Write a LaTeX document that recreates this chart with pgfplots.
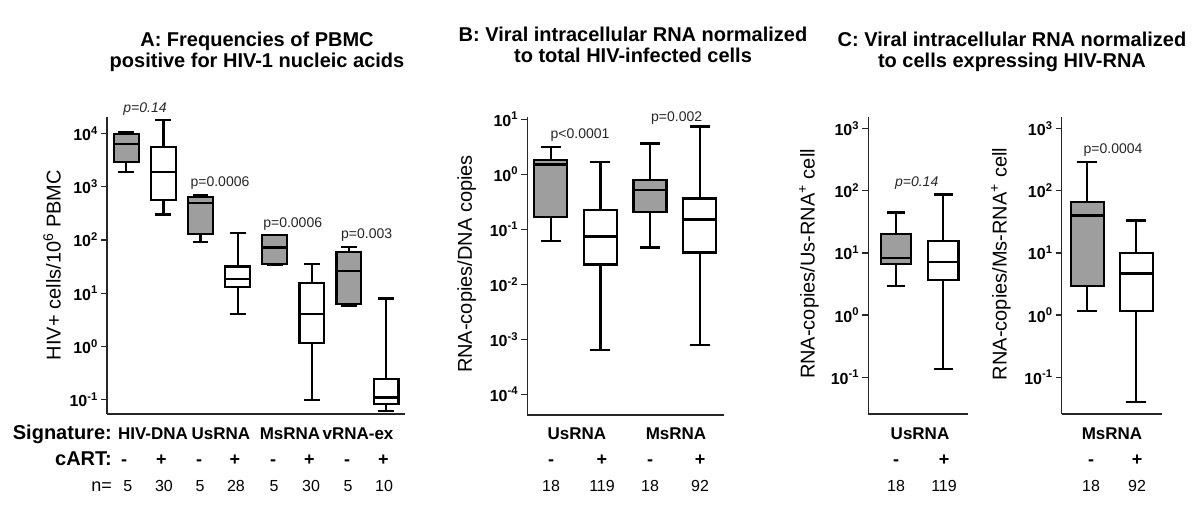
\documentclass[border=0pt]{standalone}
\usepackage{fontspec}
\setmainfont{Liberation Sans}
\usepackage{pgfplots}
\pgfplotsset{compat=1.18}
\definecolor{boxgray}{RGB}{158,158,158}
\pgfplotsset{
  boxpanel/.style={
    scale only axis, clip=false,
    axis x line*=bottom, axis y line*=left,
    axis line style={-, line width=1.3pt, draw=black!85},
    xtick=\empty, tick align=outside, major tick length=6pt,
    ytick style={line width=1.3pt, draw=black!85},
    yminorticks=false,
    yticklabel style={font=\fontsize{16}{16}\selectfont\bfseries, inner sep=1pt, xshift=-2pt},
  },
  wh/.style={draw=black, line width=2.2pt, line cap=rect, mark=none},
  boxst/.style={draw=black, line width=2.2pt, line join=miter, mark=none},
}
\newcommand{\tklab}[1]{\textbf{10\textsuperscript{#1}}}
% \bx{fill}{position}{half box width}{half cap width}{min}{Q1}{median}{Q3}{max}
\newcommand{\bx}[9]{%
  \pgfmathsetmacro\bxL{#2-#3}\pgfmathsetmacro\bxR{#2+#3}%
  \pgfmathsetmacro\cpL{#2-#4}\pgfmathsetmacro\cpR{#2+#4}%
  \addplot[wh] coordinates {(#2,#8) (#2,#9)};
  \addplot[wh] coordinates {(#2,#6) (#2,#5)};
  \addplot[wh] coordinates {(\cpL,#9) (\cpR,#9)};
  \addplot[wh] coordinates {(\cpL,#5) (\cpR,#5)};
  \addplot[boxst, fill=#1] coordinates {(\bxL,#6) (\bxR,#6) (\bxR,#8) (\bxL,#8)} --cycle;
  \addplot[wh] coordinates {(\bxL,#7) (\bxR,#7)};
}
\begin{document}
\begin{tikzpicture}
\useasboundingbox (0,0) rectangle (1200pt,515pt);
% ---------------- Panel A ----------------
\begin{axis}[boxpanel, ymode=log, at={(107pt,101pt)}, anchor=south west, width=298pt, height=297pt,
  xmin=0.48, xmax=8.51, ymin=0.0537, ymax=20417,
  ytick={0.1,1,10,100,1000,10000}, yticklabels={\tklab{-1},\tklab{0},\tklab{1},\tklab{2},\tklab{3},\tklab{4}}]
\bx{boxgray}{1}{0.335}{0.185}{1905}{2951}{6310}{9772}{10471}
\bx{white}{2}{0.335}{0.185}{302}{562}{1862}{5623}{18197}
\bx{boxgray}{3}{0.335}{0.185}{91}{129}{490}{631}{692}
\bx{white}{4}{0.335}{0.185}{4.07}{13.2}{18.6}{31.6}{135}
\bx{boxgray}{5}{0.335}{0.185}{33.9}{35.5}{72.4}{126}{126}
\bx{white}{6}{0.335}{0.185}{0.1}{1.15}{4.07}{15.5}{35.5}
\bx{boxgray}{7}{0.335}{0.185}{5.75}{6.17}{25.7}{60.3}{74.1}
\bx{white}{8}{0.335}{0.185}{0.0617}{0.0832}{0.110}{0.240}{7.94}
\end{axis}
% ---------------- Panel B ----------------
\begin{axis}[boxpanel, ymode=log, at={(527.3pt,100pt)}, anchor=south west, width=196.7pt, height=298.3pt,
  xmin=0.526, xmax=4.49, ymin=4.21e-5, ymax=11.14,
  ytick={1e-4,1e-3,0.01,0.1,1,10}, yticklabels={\tklab{-4},\tklab{-3},\tklab{-2},\tklab{-1},\tklab{0},\tklab{1}}]
\bx{boxgray}{1}{0.333}{0.18}{0.0617}{0.166}{1.51}{1.80}{3.09}
\bx{white}{2}{0.333}{0.18}{0.00063}{0.0229}{0.0741}{0.224}{1.66}
\bx{boxgray}{3}{0.333}{0.18}{0.0468}{0.209}{0.525}{0.794}{3.63}
\bx{white}{4}{0.333}{0.18}{0.00079}{0.038}{0.151}{0.363}{7.41}
\end{axis}
% ---------------- Panel C left ----------------
\begin{axis}[boxpanel, ymode=log, at={(868.3pt,101pt)}, anchor=south west, width=100pt, height=296.7pt,
  xmin=0.41, xmax=2.53, ymin=0.0257, ymax=1514,
  ytick={0.1,1,10,100,1000}, yticklabels={\tklab{-1},\tklab{0},\tklab{1},\tklab{2},\tklab{3}}]
\bx{boxgray}{1}{0.32}{0.175}{2.95}{6.61}{8.32}{20.0}{44.7}
\bx{white}{2}{0.32}{0.175}{0.138}{3.63}{7.08}{15.5}{87.1}
\end{axis}
% ---------------- Panel C right ----------------
\begin{axis}[boxpanel, ymode=log, at={(1061.7pt,101pt)}, anchor=south west, width=100pt, height=296.7pt,
  xmin=0.48, xmax=2.52, ymin=0.0257, ymax=1514,
  ytick={0.1,1,10,100,1000}, yticklabels={\tklab{-1},\tklab{0},\tklab{1},\tklab{2},\tklab{3}}]
\bx{boxgray}{1}{0.335}{0.18}{1.17}{2.95}{39.8}{66.1}{288}
\bx{white}{2}{0.335}{0.18}{0.0398}{1.17}{4.68}{10.0}{33.1}
\end{axis}
% ---------------- Texts (pixel coordinates, y downward) ----------------
\begin{scope}[x=1pt, y=-1pt, shift={(0pt,515pt)}]
\tikzset{ttl/.style={anchor=base, inner sep=0pt, font=\fontsize{20}{24}\selectfont\bfseries},
  ylab/.style={rotate=90, inner sep=0pt, font=\fontsize{20}{24}\selectfont},
  pv/.style={inner sep=0pt, text=black!85, font=\fontsize{14}{16}\selectfont},
  pvi/.style={inner sep=0pt, text=black!85, font=\fontsize{14}{16}\selectfont\itshape},
  rowhead/.style={anchor=base east, inner sep=0pt, font=\fontsize{20}{24}\selectfont\bfseries},
  cat/.style={anchor=base, inner sep=0pt, font=\fontsize{17}{20}\selectfont\bfseries},
  sgn/.style={anchor=base, inner sep=0pt, font=\fontsize{18}{20}\selectfont\bfseries},
  nn/.style={anchor=base, inner sep=0pt, font=\fontsize{16}{20}\selectfont}}
% titles
\node[ttl] at (257,46.7) {A: Frequencies of PBMC};
\node[ttl] at (257,67.5) {positive for HIV-1 nucleic acids};
\node[ttl] at (633,41.7) {B: Viral intracellular RNA normalized};
\node[ttl] at (633,62.5) {to total HIV-infected cells};
\node[ttl] at (1012,46.7) {C: Viral intracellular RNA normalized};
\node[ttl] at (1012,67.5) {to cells expressing HIV-RNA};
% y labels
\node[ylab] at (52,265) {HIV+ cells/10\textsuperscript{6} PBMC};
\node[ylab] at (466.7,264) {RNA-copies/DNA copies};
\node[ylab] at (809,264) {RNA-copies/Us-RNA\textsuperscript{+} cell};
\node[ylab] at (1001,264) {RNA-copies/Ms-RNA\textsuperscript{+} cell};
% p-values
\node[pvi] at (145,109) {p=0.14};
\node[pv] at (220,182.7) {p=0.0006};
\node[pv] at (292.7,224) {p=0.0006};
\node[pv] at (366.7,235) {p=0.003};
\node[pv] at (580,135) {p<0.0001};
\node[pv] at (676.7,118.3) {p=0.002};
\node[pvi] at (916.7,183) {p=0.14};
\node[pv] at (1113,150) {p=0.0004};
% panel A rows
\node[rowhead] at (112,439) {Signature:};
\node[rowhead] at (112,465) {cART:};
\node[anchor=base east, inner sep=0pt, font=\fontsize{18}{20}\selectfont] at (112,491.7) {n=};
\node[cat] at (153,439) {HIV-DNA};
\node[cat] at (221,439) {UsRNA};
\node[cat] at (290,439) {MsRNA};
\node[cat] at (358,439) {vRNA-ex};
\foreach \x/\s in {124/-,161.5/+,199/-,235/+,273/-,309.5/+,347/-,383.5/+}
  \node[sgn] at (\x,465) {\s};
\foreach \x/\n in {127.7/5,164/30,200/5,236/28,274/5,311/30,348/5,384/10}
  \node[nn] at (\x,491.7) {\n};
% panel B rows
\node[cat] at (577,439) {UsRNA};
\node[cat] at (676,439) {MsRNA};
\foreach \x/\s in {551/-,602/+,650/-,700/+}
  \node[sgn] at (\x,465) {\s};
\foreach \x/\n in {551/18,602/119,650/18,700/92}
  \node[nn] at (\x,491.7) {\n};
% panel C rows
\node[cat] at (920,439) {UsRNA};
\node[cat] at (1112,439) {MsRNA};
\foreach \x/\s in {896/-,944/+,1091/-,1137/+}
  \node[sgn] at (\x,465) {\s};
\foreach \x/\n in {896/18,944/119,1091/18,1137/92}
  \node[nn] at (\x,491.7) {\n};
\end{scope}
\end{tikzpicture}
\end{document}
